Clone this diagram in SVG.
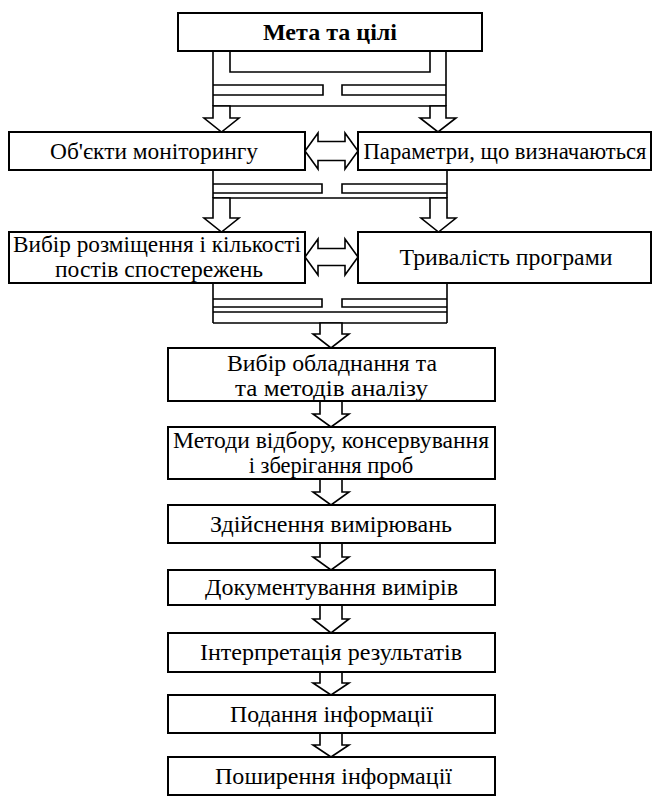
<svg xmlns="http://www.w3.org/2000/svg" width="653" height="796" viewBox="0 0 653 796">
<style>
.box{fill:#fff;stroke:#000;stroke-width:2}
.ln{fill:none;stroke:#000;stroke-width:1.6}
.ar{fill:#fff;stroke:#000;stroke-width:1.6;stroke-linejoin:miter}
.t{font-family:"Liberation Serif","Times New Roman",serif;font-size:22.5px;fill:#000;text-anchor:middle}
.b{font-weight:bold;font-size:24px}
</style>
<rect width="653" height="796" fill="#fff"/>
<g id="connectors">
  <!-- connector 1 -->
  <path class="ln" d="M213,51 V106 M446,51 V106 M230,51 V72 H430 V51 M213,85 H323 V95 H213 M446,85 H342 V95 H446 M213,106 H446"/>
  <polygon class="ar" points="213,106 230,106 230,118 239,118 221.5,132 204,118 213,118"/>
  <polygon class="ar" points="430,106 446,106 446,118 456,118 438,132 420,118 430,118"/>
  <!-- double arrow row 1 -->
  <polygon class="ar" points="305,151 318,133 318,141.5 345,141.5 345,133 358,151 345,169 345,160.5 318,160.5 318,169"/>
  <!-- connector 2 -->
  <path class="ln" d="M213,170 V198 M447,170 V198 M213,184 H322 V193 H213 M447,184 H342 V193 H447 M213,198 H447"/>
  <polygon class="ar" points="213,198 230,198 230,218 239,218 221.5,232 204,218 213,218"/>
  <polygon class="ar" points="430,198 447,198 447,218 456,218 438.5,232 421,218 430,218"/>
  <!-- double arrow row 2 -->
  <polygon class="ar" points="305,257 318,239 318,248.5 345,248.5 345,239 358,257 345,275 345,265.5 318,265.5 318,275"/>
  <!-- connector 3 -->
  <path class="ln" d="M213,283 V323 M447,283 V323 M213,299 H322 V307 H213 M447,299 H342 V307 H447 M213,312 H447 M213,323 H447"/>
  <polygon class="ar" points="320,323 342,323 342,334 349,334 331,348 313,334 320,334"/>
  <!-- centre column arrows -->
  <polygon class="ar" points="320,401 342,401 342,414 349,414 331,427 313,414 320,414"/>
  <polygon class="ar" points="320,479 342,479 342,492 349,492 331,505 313,492 320,492"/>
  <polygon class="ar" points="320,543 342,543 342,557 349,557 331,570 313,557 320,557"/>
  <polygon class="ar" points="320,605 342,605 342,619 349,619 331,633 313,619 320,619"/>
  <polygon class="ar" points="320,672 342,672 342,683 349,683 331,695 313,683 320,683"/>
  <polygon class="ar" points="320,733 342,733 342,745 349,745 331,757 313,745 320,745"/>
</g>
<g id="n-goal">
  <rect class="box" x="178" y="13" width="304" height="38"/>
  <text class="t b" x="330" y="40" textLength="134" lengthAdjust="spacingAndGlyphs">Мета та цілі</text>
</g>
<g id="n-objects">
  <rect class="box" x="9" y="132" width="296" height="38"/>
  <text class="t" x="154" y="158.5" textLength="208" lengthAdjust="spacingAndGlyphs">Об'єкти моніторингу</text>
</g>
<g id="n-params">
  <rect class="box" x="358" y="132" width="293" height="38"/>
  <text class="t" x="505" y="158.5" textLength="283" lengthAdjust="spacingAndGlyphs">Параметри, що визначаються</text>
</g>
<g id="n-posts">
  <rect class="box" x="9" y="232" width="296" height="51"/>
  <text class="t" x="157" y="252" textLength="288" lengthAdjust="spacingAndGlyphs">Вибір розміщення і кількості</text>
  <text class="t" x="159" y="277" textLength="208" lengthAdjust="spacingAndGlyphs">постів спостережень</text>
</g>
<g id="n-duration">
  <rect class="box" x="358" y="232" width="293" height="51"/>
  <text class="t" x="506" y="265" textLength="213" lengthAdjust="spacingAndGlyphs">Тривалість програми</text>
</g>
<g id="n-equipment">
  <rect class="box" x="168" y="348" width="327" height="53"/>
  <text class="t" x="332" y="370.5" textLength="210" lengthAdjust="spacingAndGlyphs">Вибір обладнання та</text>
  <text class="t" x="331.5" y="395.5" textLength="193" lengthAdjust="spacingAndGlyphs">та методів аналізу</text>
</g>
<g id="n-sampling">
  <rect class="box" x="168" y="427" width="327" height="52"/>
  <text class="t" x="331" y="448" textLength="316" lengthAdjust="spacingAndGlyphs">Методи відбору, консервування</text>
  <text class="t" x="331" y="473">і зберігання проб</text>
</g>
<g id="n-measure">
  <rect class="box" x="168" y="505" width="327" height="38"/>
  <text class="t" x="331" y="531.5" textLength="242" lengthAdjust="spacingAndGlyphs">Здійснення вимірювань</text>
</g>
<g id="n-document">
  <rect class="box" x="168" y="570" width="327" height="35"/>
  <text class="t" x="331.5" y="595" textLength="253" lengthAdjust="spacingAndGlyphs">Документування вимірів</text>
</g>
<g id="n-interpret">
  <rect class="box" x="168" y="633" width="327" height="39"/>
  <text class="t" x="331" y="660" textLength="262" lengthAdjust="spacingAndGlyphs">Інтерпретація результатів</text>
</g>
<g id="n-present">
  <rect class="box" x="168" y="695" width="327" height="38"/>
  <text class="t" x="331.5" y="721.5" textLength="203" lengthAdjust="spacingAndGlyphs">Подання інформації</text>
</g>
<g id="n-spread">
  <rect class="box" x="168" y="757" width="327" height="38"/>
  <text class="t" x="333.5" y="783.5" textLength="237" lengthAdjust="spacingAndGlyphs">Поширення інформації</text>
</g>
</svg>
